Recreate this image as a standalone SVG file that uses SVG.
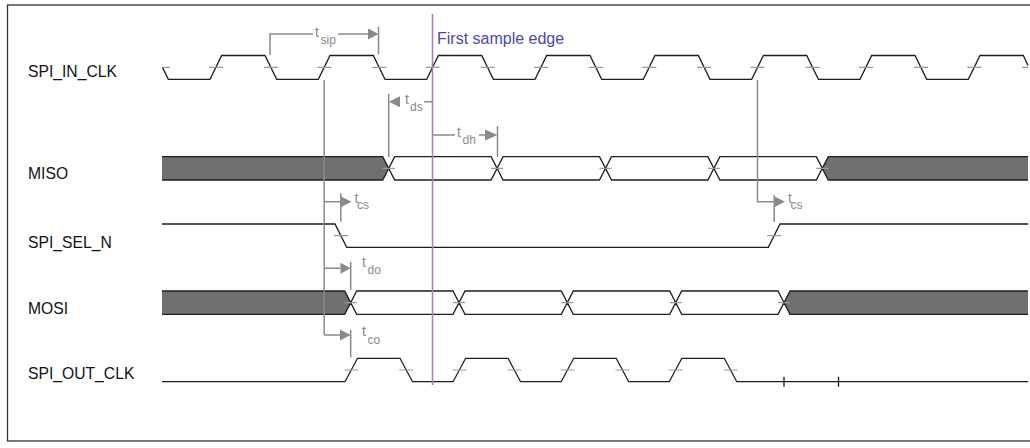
<svg xmlns="http://www.w3.org/2000/svg" width="1030" height="448" viewBox="0 0 1030 448">
<style>
.lbl{font-family:"Liberation Sans",Arial,sans-serif;font-size:15.7px;fill:#111}
.sig{fill:none;stroke:#1e1e1e;stroke-width:1.3;stroke-linejoin:miter}
.tick{fill:none;stroke:#9a9a9a;stroke-width:1.2}
.busg{fill:#707070;stroke:none}
.busw{fill:#fff;stroke:none}
.ann{fill:none;stroke:#8a8a8a;stroke-width:1.5}
.arr{fill:#8a8a8a;stroke:none}
.t{font-family:"Liberation Sans",Arial,sans-serif;font-size:14px;fill:#8a8a8a}
.sub{font-family:"Liberation Sans",Arial,sans-serif;font-size:12px;fill:#8a8a8a}
</style>
<rect x="0" y="0" width="1030" height="448" fill="#fff"/>
<rect x="7.5" y="5" width="1040" height="436" fill="none" stroke="#333" stroke-width="1.3"/>

<g id="spi_in_clk">
<text class="lbl" x="28" y="77.3">SPI_IN_CLK</text>
<path class="sig" d="M162.5,67.4 L168.3,79.3 L210,79.3 L221.7,55.5 L265,55.5 L276.7,79.3 L318.3,79.3 L330,55.5 L373.3,55.5 L385,79.3 L426.7,79.3 L438.4,55.5 L481.7,55.5 L493.4,79.3 L535,79.3 L546.7,55.5 L590,55.5 L601.7,79.3 L643.3,79.3 L655,55.5 L698.3,55.5 L710,79.3 L751.7,79.3 L763.4,55.5 L806.7,55.5 L818.4,79.3 L860,79.3 L871.7,55.5 L915,55.5 L926.7,79.3 L968.3,79.3 L980,55.5 L1023.3,55.5 L1028,65.5"/>
<path class="tick" d="M163,67.4h7 M209,67.4h14 M264,67.4h14 M317.3,67.4h14 M372.3,67.4h14 M425.6,67.4h14 M480.6,67.4h14 M534,67.4h14 M589,67.4h14 M642.3,67.4h14 M697.3,67.4h14 M750.6,67.4h14 M805.6,67.4h14 M859,67.4h14 M914,67.4h14 M967.3,67.4h14 M1022,67.4h6"/>
</g>

<g id="miso">
<text class="lbl" x="28" y="179.3">MISO</text>
<polygon class="busg" points="162,156.7 382.7,156.7 388.7,168.35 382.7,180 162,180"/>
<polygon class="busg" points="822.3,168.35 828.3,156.7 1028,156.7 1028,180 828.3,180"/>
<path class="sig" d="M162,156.7 H382.7 L394.7,180 H491.1 L503.1,156.7 H599.5 L611.5,180 H707.9 L719.9,156.7 H816.3 L828.3,180 H1028 M162,180 H382.7 L394.7,156.7 H491.1 L503.1,180 H599.5 L611.5,156.7 H707.9 L719.9,180 H816.3 L828.3,156.7 H1028"/>
<path class="tick" d="M382.7,168.35h12 M491.1,168.35h12 M599.5,168.35h12 M707.9,168.35h12 M816.3,168.35h12"/>
</g>

<g id="spi_sel_n">
<text class="lbl" x="28" y="247.7">SPI_SEL_N</text>
<path class="sig" d="M162,224 L335,224 L346.7,247.3 L768.3,247.3 L780,224 L1028,224"/>
<path class="tick" d="M334,235.7h14 M767.2,235.7h14"/>
</g>

<g id="mosi">
<text class="lbl" x="28" y="314.3">MOSI</text>
<polygon class="busg" points="162,291 344.7,291 350.7,302.65 344.7,314.3 162,314.3"/>
<polygon class="busg" points="784,302.65 790,291 1028,291 1028,314.3 790,314.3"/>
<path class="sig" d="M162,291 H344.7 L356.7,314.3 H453 L465,291 H561.3 L573.3,314.3 H669.7 L681.7,291 H778 L790,314.3 H1028 M162,314.3 H344.7 L356.7,291 H453 L465,314.3 H561.3 L573.3,291 H669.7 L681.7,314.3 H778 L790,291 H1028"/>
<path class="tick" d="M344.7,302.65h12 M453,302.65h12 M561.3,302.65h12 M669.7,302.65h12 M778,302.65h12"/>
</g>

<g id="spi_out_clk">
<text class="lbl" x="28" y="379.3">SPI_OUT_CLK</text>
<path class="sig" d="M162,381.7 L345,381.7 L357.5,358.3 L400,358.3 L412.5,381.7 L453.1,381.7 L465.6,358.3 L508.1,358.3 L520.6,381.7 L561.2,381.7 L573.7,358.3 L616.2,358.3 L628.7,381.7 L669.3,381.7 L681.8,358.3 L724.3,358.3 L736.8,381.7 L1028,381.7"/>
<path class="tick" d="M344.3,370h14 M399.3,370h14 M452.4,370h14 M507.4,370h14 M560.5,370h14 M615.5,370h14 M668.6,370h14 M723.6,370h14"/>
<path class="sig" d="M784,376.7v10 M838.5,376.7v10"/>
</g>

<g id="first_sample_edge">
<line x1="432.5" y1="14" x2="432.5" y2="385" stroke="#b475c4" stroke-width="1.5"/>
<text x="437" y="44" font-family="Liberation Sans, Arial, sans-serif" font-size="16" fill="#4a4aa8">First sample edge</text>
</g>

<g id="connectors">
<!-- t_sip -->
<path class="ann" d="M270,55 V34 H313 M338,34 H368 M378.5,26.7 V54.3"/>
<polygon class="arr" points="368,28.5 378.5,34 368,39.5"/>
<text class="t" x="315" y="37">t</text><text class="sub" x="320.5" y="44">sip</text>
<!-- t_ds -->
<path class="ann" d="M388.7,94 V157 M424,101.7 H432.5"/>
<polygon class="arr" points="389,101.7 400,96.2 400,107.2"/>
<text class="t" x="405" y="104">t</text><text class="sub" x="410" y="111">ds</text>
<!-- t_dh -->
<path class="ann" d="M432.5,135 H455 M479,135 H485 M497.5,126 V157"/>
<polygon class="arr" points="485,129.5 497.5,135 485,140.5"/>
<text class="t" x="457" y="137">t</text><text class="sub" x="462.5" y="144">dh</text>
<!-- clock reference line 1 -->
<path class="ann" d="M324.2,80 V335"/>
<!-- t_cs (falling) -->
<path class="ann" d="M324.2,201.7 H340.8 M340.8,193.3 V221.7"/>
<polygon class="arr" points="340.8,196.2 351.5,201.7 340.8,207.2"/>
<text class="t" x="354.5" y="203">t</text><text class="sub" x="357" y="209">cs</text>
<!-- t_do -->
<path class="ann" d="M324.2,268.3 H340.5 M350.7,261.7 V290"/>
<polygon class="arr" points="340.5,262.8 350.7,268.3 340.5,273.8"/>
<text class="t" x="362" y="267">t</text><text class="sub" x="367.5" y="274">do</text>
<!-- t_co -->
<path class="ann" d="M324.2,335 H340 M350.7,330 V357.5"/>
<polygon class="arr" points="340,329.5 350.7,335 340,340.5"/>
<text class="t" x="362" y="336">t</text><text class="sub" x="367.5" y="343.5">co</text>
<!-- t_cs (rising) -->
<path class="ann" d="M757.5,80 V201.7 H774.2 M774.2,195 V222"/>
<polygon class="arr" points="774.2,196.2 785,201.7 774.2,207.2"/>
<text class="t" x="788" y="203">t</text><text class="sub" x="790.5" y="209">cs</text>
</g>
</svg>
